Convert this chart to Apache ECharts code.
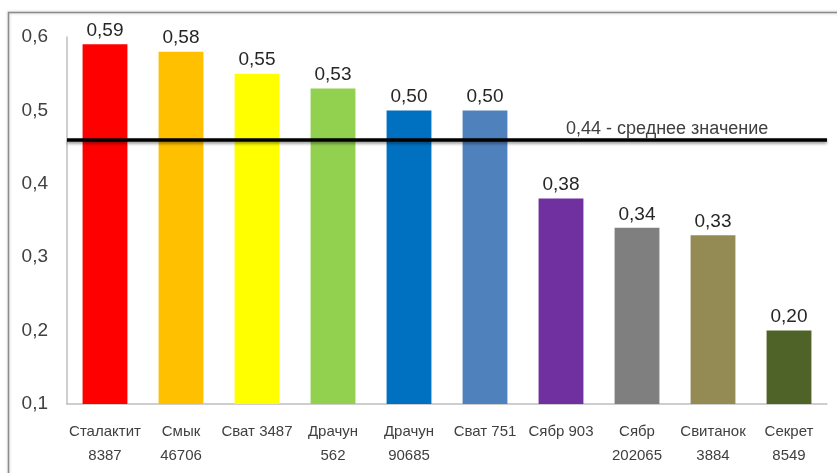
<!DOCTYPE html>
<html><head><meta charset="utf-8">
<script src="https://cdn.jsdelivr.net/npm/echarts@6/dist/echarts.min.js"></script>
<style>html,body{margin:0;padding:0;background:#fff}#c{width:837px;height:473px}</style>
</head><body><div id="c"></div>
<script>
const categories = ["Сталактит\n8387","Смык\n46706","Сват 3487","Драчун\n562","Драчун\n90685","Сват 751","Сябр 903","Сябр\n202065","Свитанок\n3884","Секрет\n8549"];
const values = [0.59,0.58,0.55,0.53,0.50,0.50,0.38,0.34,0.33,0.20];
const barColors = ["#FF0000","#FFC000","#FFFF00","#92D050","#0070C0","#4F81BD","#7030A0","#7F7F7F","#948A54","#4F6228"];
const meanLinePos = 0.458;
const meanLabel = "0,44 - среднее значение";
const yTicks = {min:0.1, max:0.6, interval:0.1};

const chart = echarts.init(document.getElementById('c'), null, {renderer:'canvas'});
const font = "'Liberation Sans', Arial, sans-serif";
chart.setOption({
  animation:false,
  graphic:[
    {type:'rect', shape:{x:8.5,y:12.5,width:840,height:470}, style:{fill:'none',stroke:'#8c8c8c',lineWidth:1.5, shadowBlur:3, shadowColor:'rgba(0,0,0,0.25)'}, z:-1},
    {type:'text', left:566, top:120, style:{text:meanLabel, fontSize:18, fontFamily:font, fill:'#404040'}}
  ],
  grid:{left:67, right:10, top:37, bottom:69},
  xAxis:{
    type:'category', data:categories,
    axisLine:{lineStyle:{color:'#bfbfbf', width:1.5}},
    axisTick:{show:false},
    axisLabel:{fontSize:15, fontFamily:font, color:'#404040', lineHeight:24, margin:16, interval:0}
  },
  yAxis:{
    type:'value', min:yTicks.min, max:yTicks.max, interval:yTicks.interval,
    splitLine:{show:false},
    axisLine:{show:true, lineStyle:{color:'#bfbfbf', width:1.5}},
    axisTick:{show:false},
    axisLabel:{fontSize:19, fontFamily:font, color:'#404040', margin:19,
      formatter:v=>v.toFixed(1).replace('.',',')}
  },
  series:[{
    type:'bar', data:values.map((v,i)=>({value:v, itemStyle:{color:barColors[i]}})),
    barWidth:'59%',
    label:{show:true, position:'top', distance:4, fontSize:19, fontFamily:font, color:'#262626',
      formatter:p=>p.value.toFixed(2).replace('.',',')},
    markLine:{
      symbol:'none', silent:true,
      data:[{yAxis:meanLinePos}],
      lineStyle:{color:'#000', width:3.5, type:'solid', shadowBlur:3, shadowColor:'rgba(0,0,0,0.4)', shadowOffsetY:2},
      label:{show:false}
    }
  }]
});
</script></body></html>
